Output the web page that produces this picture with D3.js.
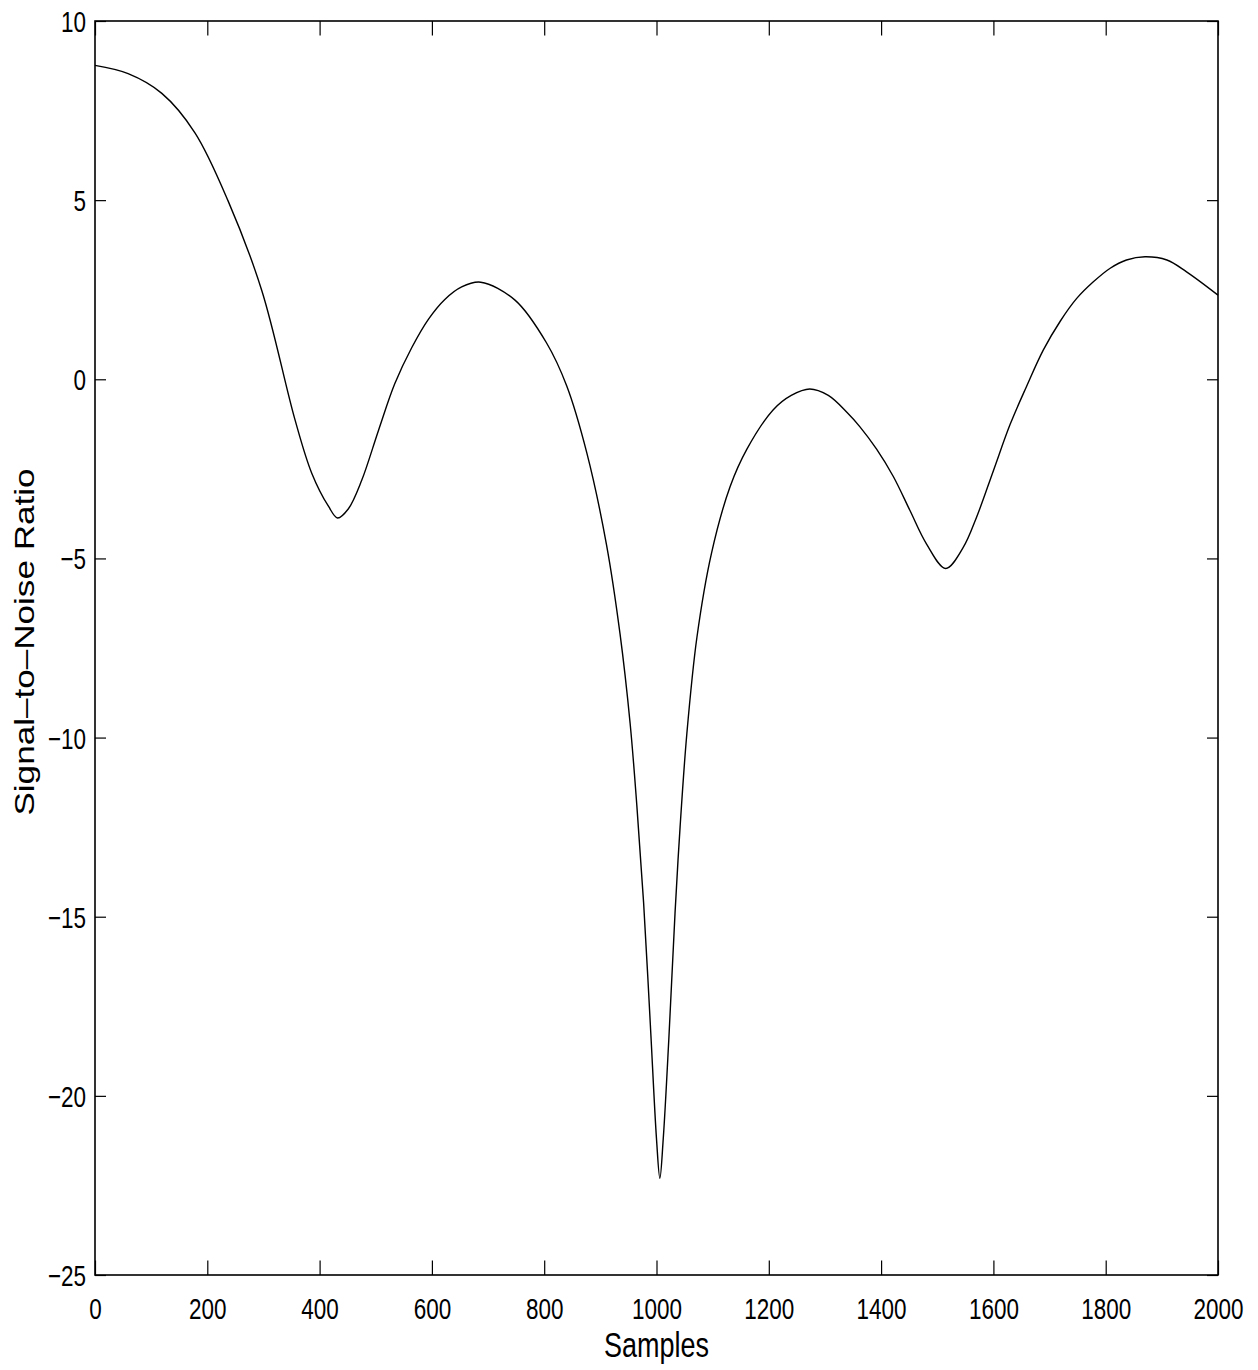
<!DOCTYPE html>
<html>
<head>
<meta charset="utf-8">
<script src="https://cdn.jsdelivr.net/npm/d3@7"></script>
<style>
  html, body { margin: 0; padding: 0; background: #fff; }
  svg { display: block; }
  text { font-family: "Liberation Sans", Arial, Helvetica, sans-serif; fill: #000; }
</style>
</head>
<body>
<svg id="chart" width="1258" height="1370"></svg>
<script>
// Sample index along the trace
const samples = [0, 59, 119, 178, 237, 297, 356, 386, 416, 432, 451, 475, 505, 534,
  564, 594, 623, 653, 687, 748, 804, 840, 876, 911, 935, 953, 965, 977, 989,
  1000, 1006, 1012, 1022, 1033, 1042, 1054, 1072, 1098, 1131, 1161, 1208, 1240,
  1273, 1306, 1339, 1362, 1392, 1422, 1451, 1481, 1515, 1546, 1570, 1600, 1630,
  1659, 1689, 1719, 1748, 1778, 1808, 1837, 1870, 1909, 1944, 2000];

// Signal-to-noise ratio at each sample
const snr = [8.76, 8.53, 7.98, 6.88, 4.98, 2.48, -1.12, -2.62, -3.55, -3.87, -3.62,
  -2.82, -1.42, -0.12, 0.88, 1.68, 2.23, 2.58, 2.71, 2.21, 1.02, -0.18, -2.06,
  -4.62, -7.1, -9.6, -11.9, -14.6, -18.0, -21.2, -22.3, -21.2, -18.4,
  -14.9, -12.5, -9.9, -7.2, -4.85, -3.0, -1.95, -0.85, -0.45, -0.27, -0.45,
  -0.92, -1.32, -1.95, -2.72, -3.65, -4.6, -5.28, -4.7, -3.85, -2.55, -1.25,
  -0.2, 0.82, 1.62, 2.25, 2.72, 3.10, 3.33, 3.42, 3.33, 3.00, 2.35];

const xTickValues = [0, 200, 400, 600, 800, 1000, 1200, 1400, 1600, 1800, 2000];
const yTickValues = [10, 5, 0, -5, -10, -15, -20, -25];

const xLabel = "Samples";
const yLabel = "Signal\u2013to\u2013Noise Ratio";

// Layout
const plotLeft = 95, plotRight = 1218, plotTop = 21, plotBottom = 1275;
const stretch = 1.3;          // glyphs are drawn taller than they are wide
const xTickLen = 14.5, yTickLen = 11;

const svg = d3.select("#chart");

const x = d3.scaleLinear().domain([0, 2000]).range([plotLeft, plotRight]);
const y = d3.scaleLinear().domain([-25, 10]).range([plotBottom, plotTop]);

// Frame
svg.append("rect")
  .attr("x", plotLeft).attr("y", plotTop)
  .attr("width", plotRight - plotLeft).attr("height", plotBottom - plotTop)
  .attr("fill", "none").attr("stroke", "#000").attr("stroke-width", 1.6);

// Bottom axis with labels
svg.append("g")
  .attr("transform", `translate(0,${plotBottom})`)
  .call(d3.axisBottom(x).tickValues(xTickValues).tickSize(-xTickLen)
    .tickSizeOuter(0).tickFormat(d3.format("d")))
  .call(g => g.select(".domain").remove())
  .call(g => g.selectAll(".tick line").attr("stroke", "#000").attr("stroke-width", 1.2))
  .call(g => g.selectAll("text")
    .attr("y", 0).attr("dy", null)
    .attr("font-size", 22.5)
    .attr("font-family", "'Liberation Sans', Arial, sans-serif")
    .attr("fill", "#000")
    .attr("transform", `translate(0,44) scale(1,${stretch})`));

// Top axis ticks
svg.append("g")
  .attr("transform", `translate(0,${plotTop})`)
  .call(d3.axisTop(x).tickValues(xTickValues).tickSize(-xTickLen)
    .tickSizeOuter(0).tickFormat(""))
  .call(g => g.select(".domain").remove())
  .call(g => g.selectAll(".tick line").attr("stroke", "#000").attr("stroke-width", 1.2));

// Left axis with labels
svg.append("g")
  .attr("transform", `translate(${plotLeft},0)`)
  .call(d3.axisLeft(y).tickValues(yTickValues).tickSize(-yTickLen).tickSizeOuter(0))
  .call(g => g.select(".domain").remove())
  .call(g => g.selectAll(".tick line").attr("stroke", "#000").attr("stroke-width", 1.2))
  .call(g => g.selectAll("text")
    .attr("x", 0).attr("y", 0).attr("dy", null)
    .attr("text-anchor", "end")
    .attr("font-size", 22.5)
    .attr("font-family", "'Liberation Sans', Arial, sans-serif")
    .attr("fill", "#000")
    .attr("transform", `translate(-9,10.5) scale(1,${stretch})`));

// Right axis ticks
svg.append("g")
  .attr("transform", `translate(${plotRight},0)`)
  .call(d3.axisRight(y).tickValues(yTickValues).tickSize(-yTickLen)
    .tickSizeOuter(0).tickFormat(""))
  .call(g => g.select(".domain").remove())
  .call(g => g.selectAll(".tick line").attr("stroke", "#000").attr("stroke-width", 1.2));

// SNR trace
const data = samples.map((s, i) => ({ s, v: snr[i] }));
const line = d3.line()
  .x(d => x(d.s))
  .y(d => y(d.v))
  .curve(d3.curveCatmullRom.alpha(0.5));

svg.append("path")
  .datum(data)
  .attr("d", line)
  .attr("fill", "none")
  .attr("stroke", "#000")
  .attr("stroke-width", 1.4)
  .attr("stroke-linejoin", "round");

// Axis titles
svg.append("text")
  .attr("text-anchor", "middle")
  .attr("font-size", 27)
  .attr("transform", `translate(${(plotLeft + plotRight) / 2},1357) scale(1,${stretch})`)
  .text(xLabel);

svg.append("text")
  .attr("text-anchor", "middle")
  .attr("font-size", 27)
  .attr("transform", `translate(34,642) rotate(-90) scale(${stretch},1)`)
  .text(yLabel);
</script>
</body>
</html>
